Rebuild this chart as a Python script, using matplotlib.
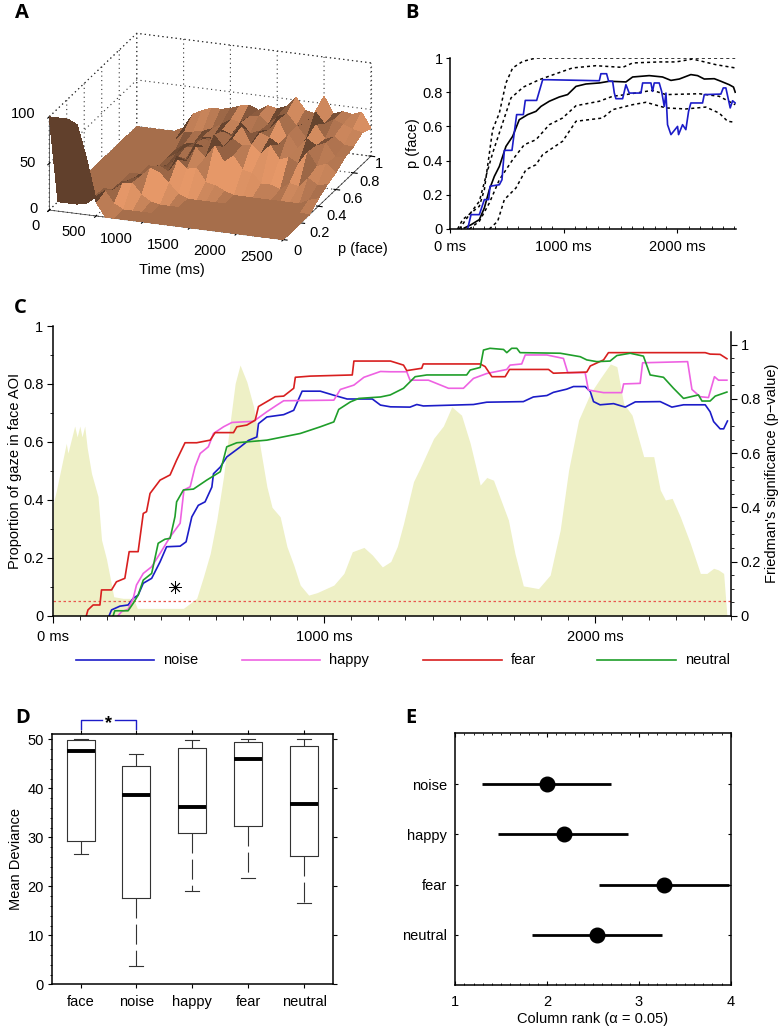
#!/usr/bin/env python

import numpy as np
import matplotlib
matplotlib.use('Agg')
import matplotlib.pyplot as plt
from matplotlib.lines import Line2D
from matplotlib.ticker import MultipleLocator

W, H = 782, 1030
plt.rcParams['font.family'] = ['Liberation Sans', 'DejaVu Sans']
plt.rcParams['font.size'] = 10.5
plt.rcParams['axes.linewidth'] = 1.1

# panel A, surface height per p level, one value each 100 ms
surf_time = np.arange(0, 2600, 100)
surf_p = [0, .1, .2, .3, .4, .5, .6, .7, .8, .9, 1]
surf_z = [
	[100,100,100,95,60,15,0,0,0,0,0,0,0,0,0,0,0,0,0,0,0,0,0,0,0,0],
	[0,0,0,2,10,18,5,0,0,0,0,0,0,0,0,0,0,0,0,0,0,0,0,0,0,0],
	[0,0,0,0,3,10,18,20,8,2,0,0,0,0,0,0,0,0,0,0,0,0,0,0,0,0],
	[0,0,0,0,0,5,14,18,28,24,14,4,0,0,0,0,0,0,0,0,0,0,0,0,0,0],
	[0,0,0,0,0,2,8,10,22,16,30,22,24,10,8,3,0,0,0,0,0,0,0,0,5,8],
	[0,0,0,0,0,0,2,8,10,24,20,36,26,40,24,32,18,16,6,6,2,10,8,18,12,14],
	[0,0,0,0,0,0,0,3,10,12,30,28,42,30,40,34,36,28,38,24,28,22,36,22,26,18],
	[0,0,0,0,0,0,0,6,14,16,26,22,36,32,44,26,40,36,30,42,28,40,34,38,24,25],
	[0,0,0,0,0,0,0,8,10,18,18,28,24,38,28,32,34,46,26,42,30,46,32,36,28,28],
	[0,0,0,0,0,0,10,12,14,18,24,30,28,36,38,30,40,44,32,36,50,38,44,40,36,34],
	[0,0,0,0,0,5,21,26,30,30,32,36,38,34,40,38,42,53,40,38,58,40,44,42,46,30],
]
surf_time_labels = ['0', '500', '1000', '1500', '2000', '2500']
surf_p_labels = ['0', '0.2', '0.4', '0.6', '0.8', '1']
surf_z_labels = ['100', '50', '0']

# panel B
b_mean_t = [126,185,258,302,346,390,434,492,551,609,683,756,800,873,961,1034,1108,1195,1313,1401,1547,1606,1752,1869,1943,2016,2118,2177,2236,2324,2382,2455,2493,2508]
b_mean = [.006,.025,.055,.123,.23,.308,.366,.483,.542,.639,.669,.688,.717,.747,.772,.786,.834,.848,.854,.864,.86,.889,.897,.889,.869,.877,.903,.897,.877,.879,.864,.844,.83,.8]
b_top_t = [67,111,185,258,302,375,434,492,551,639,756,2508]
b_top = [0,.055,.094,.133,.23,.581,.678,.854,.942,.98,1,1]
b_up_t = [82,170,258,316,375,463,536,645,785,932,1078,1283,1518,1606,1840,1987,2133,2338,2508]
b_up = [0,.084,.162,.308,.444,.62,.766,.83,.873,.908,.942,.955,.945,.971,.977,.977,.994,.961,.942]
b_lo_t = [170,258,346,434,551,653,756,873,990,1108,1313,1430,1547,1781,1899,2192,2367,2508]
b_lo = [0,.045,.152,.288,.405,.493,.522,.61,.649,.721,.747,.776,.786,.811,.786,.791,.776,.727]
b_bot_t = [346,419,478,580,668,756,815,990,1108,1342,1430,1606,1723,1899,2074,2250,2367,2441,2508]
b_bot = [0,.045,.172,.24,.347,.376,.435,.513,.63,.649,.698,.727,.741,.708,.702,.713,.678,.63,.624]
b_blue_t = [155,185,258,302,340,352,434,457,478,545,586,645,662,762,815,858,1313,1327,1377,1395,1430,1445,1459,1518,1547,1576,1679,1694,1767,1781,1796,1840,1861,1884,1899,1913,1943,2001,2010,2045,2074,2098,2118,2221,2236,2382,2403,2426,2464,2485,2508]
b_blue = [0,.084,.084,.172,.172,.25,.259,.288,.46,.46,.669,.669,.752,.752,.873,.873,.867,.908,.908,.864,.864,.795,.762,.762,.844,.795,.795,.854,.854,.805,.854,.854,.805,.717,.795,.61,.552,.6,.552,.61,.581,.688,.737,.737,.786,.789,.825,.825,.708,.75,.737]

# panel C, friedman p value (right axis)
c_p_t = [0,12,31,49,55,80,89,99,107,117,126,142,166,179,197,210,224,259,296,311,481,530,555,580,604,629,653,672,690,715,740,764,789,808,838,863,888,912,943,974,1036,1073,1104,1147,1178,1215,1246,1270,1293,1330,1354,1404,1440,1471,1507,1539,1576,1600,1625,1680,1704,1735,1791,1834,1871,1902,1939,1982,2019,2056,2080,2105,2136,2179,2216,2240,2259,2284,2314,2351,2388,2412,2437,2455,2474,2486]
c_p = [.41,.46,.55,.636,.60,.70,.66,.70,.66,.70,.62,.525,.44,.28,.21,.144,.07,.064,.064,.027,.027,.064,.144,.23,.353,.513,.71,.857,.925,.863,.771,.624,.476,.40,.365,.255,.187,.113,.076,.085,.113,.156,.236,.252,.224,.18,.2,.255,.34,.495,.544,.654,.70,.771,.74,.636,.482,.51,.50,.353,.23,.11,.10,.15,.316,.537,.722,.82,.876,.929,.919,.783,.74,.587,.587,.464,.427,.433,.365,.267,.156,.156,.175,.169,.156,0]
c_alpha = 0.054

# panel C, proportion of gaze per condition
fear_t = [123,129,148,173,179,216,234,265,281,314,333,345,358,395,432,456,487,530,580,598,666,678,715,746,758,789,820,851,888,894,949,1104,1110,1245,1293,1305,1360,1366,1576,1594,1619,1668,1684,1828,1846,1969,1982,2031,2049,2406,2424,2461,2486]
fear = [0,.02,.037,.037,.089,.089,.117,.129,.221,.221,.353,.359,.422,.468,.486,.537,.597,.597,.606,.632,.632,.652,.658,.675,.722,.739,.756,.758,.785,.823,.827,.831,.879,.879,.865,.846,.854,.869,.869,.86,.825,.825,.85,.85,.837,.841,.862,.883,.908,.908,.903,.902,.887]
happy_t = [240,253,277,296,308,333,364,395,432,469,483,506,524,543,573,592,629,660,740,789,826,851,1036,1060,1110,1147,1208,1244,1305,1317,1385,1459,1514,1551,1600,1674,1686,1729,1742,1822,1883,1899,1963,1975,2031,2098,2105,2166,2175,2341,2357,2387,2418,2440,2455,2486]
happy = [0,.014,.022,.06,.106,.146,.169,.215,.272,.319,.434,.445,.514,.56,.583,.629,.652,.667,.671,.704,.727,.742,.744,.781,.796,.823,.843,.842,.842,.813,.813,.785,.785,.819,.836,.85,.865,.869,.9,.9,.888,.839,.839,.779,.77,.77,.8,.802,.873,.877,.781,.756,.753,.825,.813,.813]
noise_t = [207,216,247,277,296,314,333,364,395,419,469,491,512,536,561,586,592,617,641,690,721,752,758,789,851,888,919,986,1036,1085,1178,1208,1245,1317,1342,1366,1551,1600,1735,1772,1822,1846,1895,1920,1963,1982,1994,2018,2068,2111,2148,2240,2283,2326,2406,2424,2437,2461,2474,2488]
noise = [0,.02,.033,.037,.06,.071,.112,.129,.186,.238,.24,.255,.341,.381,.393,.444,.49,.513,.548,.582,.605,.617,.663,.686,.694,.709,.775,.775,.761,.748,.748,.727,.721,.72,.729,.724,.729,.737,.739,.755,.76,.771,.782,.791,.791,.774,.739,.728,.732,.72,.738,.739,.72,.728,.728,.704,.67,.645,.645,.672]
neutral_t = [222,228,277,296,314,333,364,388,413,432,450,456,481,518,567,617,641,678,715,789,912,986,1036,1054,1097,1128,1208,1244,1293,1336,1379,1526,1539,1576,1588,1612,1662,1674,1692,1711,1723,1871,1945,1969,2006,2055,2080,2129,2178,2203,2252,2289,2326,2381,2394,2424,2443,2486]
neutral = [0,.017,.017,.043,.071,.123,.146,.25,.264,.267,.342,.393,.434,.437,.468,.497,.583,.597,.6,.606,.629,.652,.669,.712,.738,.75,.755,.762,.785,.825,.831,.831,.848,.857,.917,.923,.919,.908,.923,.923,.908,.906,.894,.883,.877,.879,.898,.906,.896,.831,.823,.785,.75,.762,.741,.741,.758,.772]

# panel D box stats
d_names = ['face', 'noise', 'happy', 'fear', 'neutral']
d_low = [26.5, 3.8, 19.1, 21.8, 16.5]
d_q1 = [29.2, 17.6, 30.8, 32.4, 26.1]
d_med = [47.7, 38.7, 36.2, 46.0, 36.9]
d_q3 = [49.9, 44.5, 48.2, 49.4, 48.7]
d_high = [50.0, 47.0, 49.8, 50.0, 50.0]

# panel E
e_names = ['noise', 'happy', 'fear', 'neutral']
e_low = [1.29, 1.47, 2.56, 1.84]
e_rank = [2.0, 2.18, 3.27, 2.54]
e_high = [2.70, 2.88, 3.98, 3.25]

BLUE = '#1c1cc8'
MAGENTA = '#ee62e2'
RED = '#d81f1f'
GREEN = '#1f9e2a'
FILL = '#eef0c6'


def rect(left, top, right, bottom):
	'''pixel box to figure fractions'''
	return [left/W, 1-bottom/H, (right-left)/W, (bottom-top)/H]


def fx(x):
	return x/W


def fy(y):
	return 1-y/H


def panel_letter(fig, x, y, s):
	fig.text(fx(x), fy(y), s, family='Open Sans', fontweight='bold', fontsize=14.5, va='baseline')


def surface_colours(Z):
	'''own shading, the data units are too uneven for the built-in one'''
	dzdx = np.diff(Z, axis=1)[:-1, :]*1.01/10.12
	dzdy = np.diff(Z, axis=0)[:, :-1]*1.01/26.0
	norm = np.sqrt(dzdx**2 + dzdy**2 + 1)
	light = np.array([.4, -.7, .59])
	dot = (-dzdx*light[0] - dzdy*light[1] + light[2])/norm
	shade = np.clip(.25 + .8*dot, .42, 1)
	base = np.array([230, 152, 104])/255.
	rgba = np.ones(Z.shape + (4,))
	for i in range(3):
		rgba[:-1, :-1, i] = base[i]*shade
	return rgba


def plot_surface_panel(fig):
	ax = fig.add_axes(rect(-60.5, -63, 469.5, 347), projection='3d', proj_type='ortho')
	ax.patch.set_alpha(0)
	T, P = np.meshgrid(surf_time, surf_p)
	Z = np.array(surf_z, dtype=float)
	ax.plot_surface(T, P, Z, facecolors=surface_colours(Z), linewidth=0, antialiased=False,
		shade=False, rstride=1, cstride=1)
	ax.set_xlim(0, 2500)
	ax.set_ylim(0, 1)
	ax.set_zlim(0, 100)
	ax.set_box_aspect((253, 260, 101), zoom=.878)
	ax.view_init(elev=20.3, azim=-70)
	ax.set_xticks([0, 500, 1000, 1500, 2000, 2500])
	ax.set_yticks([0, .2, .4, .6, .8, 1])
	ax.set_zticks([0, 50, 100])
	# 3d tick labels can not be placed well enough, written by hand further down
	ax.set_xticklabels([])
	ax.set_yticklabels([])
	ax.set_zticklabels([])
	ax.zaxis.set_ticks_position('lower')
	for axis in (ax.xaxis, ax.yaxis, ax.zaxis):
		axis.set_pane_color((1, 1, 1, 0))
		axis.pane.set_edgecolor((0, 0, 0, 0))
		axis._axinfo['grid'].update(color='#333333', linestyle=(0, (1, 3)), linewidth=.8)
		axis.line.set_linewidth(.5)
		axis.line.set_color('#333333')
	# top edges of the box are dotted like the grid
	ax.plot([0, 0, 2500], [0, 1, 1], [100, 100, 100], ls=(0, (1, 3)), lw=.8, color='#333333')
	ax.plot([2500, 2500], [1, 1], [0, 100], ls=(0, (1, 3)), lw=.8, color='#333333')

	for s, x, y in zip(surf_time_labels, (36, 74, 116, 163, 210, 257), (226, 232, 239, 245, 251, 257)):
		fig.text(fx(x), fy(y), s, ha='center', va='center')
	for s, x, y in zip(surf_p_labels, (297, 320, 337, 353, 370, 379), (251, 233, 216, 199, 182, 164)):
		fig.text(fx(x), fy(y), s, ha='center', va='center')
	for s, x, y in zip(surf_z_labels, (23, 28, 33), (114, 163, 209)):
		fig.text(fx(x), fy(y), s, ha='center', va='center')
	fig.text(fx(172), fy(270), 'Time (ms)', ha='center', va='center')
	fig.text(fx(363), fy(249), 'p (face)', ha='center', va='center')
	return ax


def plot_b(fig):
	ax = fig.add_axes(rect(450, 58, 736, 229))
	for t, v in ((b_top_t, b_top), (b_up_t, b_up), (b_lo_t, b_lo), (b_bot_t, b_bot)):
		ax.plot(t, v, color='black', lw=1.1, dashes=(2, 2))
	ax.plot(b_mean_t, b_mean, color='black', lw=1.2)
	ax.plot(b_blue_t, b_blue, color=BLUE, lw=1.2)
	ax.set_xlim(0, 2515)
	ax.set_ylim(0, 1)
	ax.spines['top'].set_visible(False)
	ax.spines['right'].set_visible(False)
	ax.set_xticks([0, 1000, 2000])
	ax.set_xticklabels(['0 ms', '1000 ms', '2000 ms'])
	ax.xaxis.set_minor_locator(MultipleLocator(100))
	ax.yaxis.set_minor_locator(MultipleLocator(.1))
	ax.set_yticks([0, .2, .4, .6, .8, 1])
	ax.set_yticklabels(['0', '0.2', '0.4', '0.6', '0.8', '1'])
	ax.tick_params(axis='x', which='major', direction='out', length=3, pad=5)
	ax.tick_params(axis='x', which='minor', direction='in', length=2)
	ax.tick_params(axis='y', which='major', direction='out', length=3, pad=2)
	ax.tick_params(axis='y', which='minor', length=0)
	ax.set_ylabel('p (face)', labelpad=2)


def plot_c(fig):
	ax2 = fig.add_axes(rect(53, 331.7, 730.7, 615.7))
	ax = fig.add_axes(rect(53, 326, 730.7, 615.7), sharex=ax2)
	ax2.set_zorder(1)
	ax.set_zorder(2)
	ax.patch.set_visible(False)

	ax2.fill_between(c_p_t, c_p, 0, color=FILL, lw=0)
	ax2.axhline(c_alpha, color='#e9564e', lw=.9, dashes=(2, 2))
	ax2.set_ylim(0, 1.048)
	ax2.set_xlim(0, 2500)
	ax2.yaxis.tick_right()
	ax2.yaxis.set_label_position('right')
	ax2.set_yticks([0, .2, .4, .6, .8, 1])
	ax2.set_yticklabels(['0', '0.2', '0.4', '0.6', '0.8', '1'])
	ax2.yaxis.set_minor_locator(MultipleLocator(.05))
	ax2.tick_params(axis='y', which='major', length=4, pad=3)
	ax2.tick_params(axis='y', which='minor', length=2)
	ax2.set_ylabel("Friedman's significance (p\u2212value)", labelpad=3)
	for s in ('top', 'left', 'bottom'):
		ax2.spines[s].set_visible(False)
	ax2.tick_params(axis='x', which='both', bottom=False, labelbottom=False)

	ax.plot(noise_t, noise, color=BLUE, lw=1.2)
	ax.plot(happy_t, happy, color=MAGENTA, lw=1.2)
	ax.plot(fear_t, fear, color=RED, lw=1.2)
	ax.plot(neutral_t, neutral, color=GREEN, lw=1.2)
	ax.plot([449], [.1], marker=(8, 2, 0), ms=9, mew=.6, color='black', ls='none')
	ax.set_ylim(0, 1)
	ax.set_xticks([0, 1000, 2000])
	ax.set_xticklabels(['0 ms', '1000 ms', '2000 ms'])
	ax.xaxis.set_minor_locator(MultipleLocator(100))
	ax.yaxis.set_minor_locator(MultipleLocator(.1))
	ax.set_yticks([0, .2, .4, .6, .8, 1])
	ax.set_yticklabels(['0', '0.2', '0.4', '0.6', '0.8', '1'])
	ax.tick_params(axis='x', which='major', length=5, pad=5)
	ax.tick_params(axis='x', which='minor', length=3)
	ax.tick_params(axis='y', which='major', length=4, pad=3)
	ax.tick_params(axis='y', which='minor', length=2)
	ax.set_ylabel('Proportion of gaze in face AOI', labelpad=1)
	ax.spines['top'].set_visible(False)
	ax.spines['right'].set_visible(False)

	# legend is spread unevenly in the original so it is laid out by hand
	for x0, x1, tx, s, col in ((76, 154, 163, 'noise', BLUE), (242, 320, 329, 'happy', MAGENTA),
		(423, 502, 511, 'fear', RED), (597, 676, 685, 'neutral', GREEN)):
		fig.add_artist(Line2D([fx(x0), fx(x1)], [fy(660), fy(660)], color=col, lw=1.2))
		fig.text(fx(tx), fy(660), s, va='center')


def plot_d(fig):
	ax = fig.add_axes(rect(52.3, 734, 333, 984.3))
	stats = []
	for i in range(len(d_names)):
		stats.append(dict(whislo=d_low[i], q1=d_q1[i], med=d_med[i], q3=d_q3[i], whishi=d_high[i], fliers=[]))
	ax.bxp(stats, positions=range(1, 6), widths=.5, showfliers=False,
		boxprops=dict(color='#333333', lw=.8),
		whiskerprops=dict(color='#333333', lw=.8, dashes=(18, 5.5)),
		capprops=dict(color='#333333', lw=.8),
		medianprops=dict(color='black', lw=2.8, solid_capstyle='butt'))
	ax.set_xlim(.494, 5.518)
	ax.set_ylim(0, 51.1)
	ax.set_xticks(range(1, 6))
	ax.set_xticklabels(d_names)
	ax.yaxis.set_minor_locator(MultipleLocator(2))
	ax.tick_params(axis='x', length=3, top=True, pad=5)
	ax.tick_params(axis='y', which='major', length=3, right=True, pad=3)
	ax.tick_params(axis='y', which='minor', length=1.5)
	ax.set_ylabel('Mean Deviance', labelpad=3)
	# significance bracket above the axes
	ax.plot([1, 1, 1.38], [52.2, 53.9, 53.9], color=BLUE, lw=1, clip_on=False)
	ax.plot([1.62, 2, 2], [53.9, 53.9, 52.2], color=BLUE, lw=1, clip_on=False)
	ax.text(1.5, 53.3, '*', ha='center', va='center', fontsize=13, fontweight='bold')


def plot_e(fig):
	ax = fig.add_axes(rect(455.3, 733, 730.7, 985))
	y = np.arange(1, 5)
	ax.hlines(y, e_low, e_high, color='black', lw=2)
	ax.plot(e_rank, y, 'o', color='black', ms=10.5)
	ax.set_xlim(1, 4)
	ax.set_ylim(5, -.02)
	ax.set_yticks(y)
	ax.set_yticklabels(e_names)
	ax.set_xticks([1, 2, 3, 4])
	ax.xaxis.set_minor_locator(MultipleLocator(.1))
	ax.tick_params(axis='x', which='major', direction='in', length=3, top=True, pad=7)
	ax.tick_params(axis='x', which='minor', direction='in', length=1.5, top=True)
	ax.tick_params(axis='y', direction='in', length=2, right=True, pad=6)
	ax.set_xlabel('Column rank (\u03b1 = 0.05)', labelpad=2)


def main():
	fig = plt.figure(figsize=(W/100, H/100), dpi=100)
	plot_surface_panel(fig)
	plot_b(fig)
	plot_c(fig)
	plot_d(fig)
	plot_e(fig)
	panel_letter(fig, 15, 18, 'A')
	panel_letter(fig, 405, 18, 'B')
	panel_letter(fig, 14, 313, 'C')
	panel_letter(fig, 15, 723, 'D')
	panel_letter(fig, 405, 723, 'E')
	fig.savefig('out.png', dpi=100)
	plt.close(fig)


if __name__ == "__main__":
	main()
